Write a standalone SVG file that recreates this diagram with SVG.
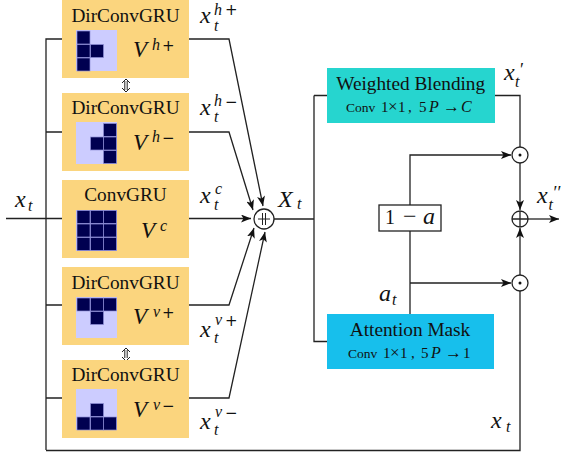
<svg xmlns="http://www.w3.org/2000/svg" width="561" height="455" viewBox="0 0 561 455">
<style>
text{font-family:"Liberation Serif","Times New Roman",serif;fill:#111}
.t{font-size:19.300px;text-anchor:middle}
.m{font-style:italic;font-size:24px}
.v{font-style:italic;font-size:23px}
.s{font-style:italic;font-size:16px}
text.p{font-family:"DejaVu Sans",sans-serif;font-size:15px}
.q{font-size:18px}
.c{font-size:13.500px}
.d{font-size:15px}
.x{font-size:17px}
.ci{font-size:16px;font-style:italic}
.b{fill:#fbd57e}
.l{fill:#ccccff}
.k{fill:#000050;stroke:#8f8fd8;stroke-width:.7}
.w{fill:none;stroke:#222;stroke-width:1.3}
.n{fill:#fff;stroke:#222;stroke-width:1.3}
.a{fill:#111}
</style>
<defs>
<marker id="ah" markerWidth="11" markerHeight="8" refX="10" refY="4" orient="auto" markerUnits="userSpaceOnUse"><path d="M0 0L10 4L0 8L2.500 4Z" fill="#111"/></marker>
<rect id="q" class="k" width="13" height="13"/>
</defs>
<g id="connectors">
<path class="w" d="M46 450V39H62M46 132H62M6 218.500H62M46 305H62M46 398H62M46 450.500H520V291"/>
<path class="w" d="M189 39H229L263 206" marker-end="url(#ah)"/>
<path class="w" d="M189 132H229L253 210" marker-end="url(#ah)"/>
<path class="w" d="M189 218.500H251" marker-end="url(#ah)"/>
<path class="w" d="M189 305H229L254 228" marker-end="url(#ah)"/>
<path class="w" d="M189 398H229L265 232" marker-end="url(#ah)"/>
<path class="w" d="M274 219H314M314 95.500H327M314 95.500V341.500H327M495 95.500H520V147"/>
<path class="w" d="M410 205V155H511" marker-end="url(#ah)"/>
<path class="w" d="M410 231V314M410 283H511" marker-end="url(#ah)"/>
<path class="w" d="M520 163V210" marker-end="url(#ah)"/>
<path class="w" d="M520 275V228" marker-end="url(#ah)"/>
<path class="w" d="M528 219H559" marker-end="url(#ah)"/>
<path class="w" style="stroke-width:1" d="M124.800 81V90M127.200 81V90M124.800 350V358M127.200 350V358"/>
<path class="w" style="stroke-width:1" d="M122 83L126 79L130 83M122 88L126 92L130 88M122 352L126 348L130 352M122 357L126 361L130 357"/>
</g>
<g id="node-hplus">
<rect class="b" x="62" y="0" width="127" height="78"/>
<text class="t" x="125.500" y="22">DirConvGRU</text>
<rect class="l" x="76" y="30" width="41" height="41"/>
<use href="#q" x="77" y="31"/><use href="#q" x="77" y="44.500"/><use href="#q" x="90.500" y="44.500"/><use href="#q" x="77" y="58"/>
<text class="v" x="133" y="57">V</text><text class="s" x="152" y="50">h</text><text class="p" x="162" y="51">+</text>
</g>
<g id="node-hminus">
<rect class="b" x="62" y="93" width="127" height="78"/>
<text class="t" x="125.500" y="114">DirConvGRU</text>
<rect class="l" x="76" y="122" width="41" height="42"/>
<use href="#q" x="103.500" y="123.500"/><use href="#q" x="90.500" y="137"/><use href="#q" x="103.500" y="137"/><use href="#q" x="103.500" y="150.500"/>
<text class="v" x="133" y="150">V</text><text class="s" x="152" y="142">h</text><text class="p" x="162" y="143">−</text>
</g>
<g id="node-c">
<rect class="b" x="62" y="180" width="127" height="78"/>
<text class="t" x="125.500" y="201">ConvGRU</text>
<rect class="l" x="76" y="210" width="41" height="41"/>
<use href="#q" x="77" y="210.500"/><use href="#q" x="90.500" y="210.500"/><use href="#q" x="103.500" y="210.500"/>
<use href="#q" x="77" y="224"/><use href="#q" x="90.500" y="224"/><use href="#q" x="103.500" y="224"/>
<use href="#q" x="77" y="237.500"/><use href="#q" x="90.500" y="237.500"/><use href="#q" x="103.500" y="237.500"/>
<text class="v" x="141" y="238">V</text><text class="s" x="160" y="231">c</text>
</g>
<g id="node-vplus">
<rect class="b" x="62" y="267" width="127" height="78"/>
<text class="t" x="125.500" y="289">DirConvGRU</text>
<rect class="l" x="76" y="297" width="41" height="41"/>
<use href="#q" x="77" y="298"/><use href="#q" x="90.500" y="298"/><use href="#q" x="103.500" y="298"/><use href="#q" x="90.500" y="311.500"/>
<text class="v" x="133" y="324">V</text><text class="s" x="153" y="317">v</text><text class="p" x="162" y="318">+</text>
</g>
<g id="node-vminus">
<rect class="b" x="62" y="360" width="127" height="78"/>
<text class="t" x="125.500" y="381">DirConvGRU</text>
<rect class="l" x="76" y="389" width="41" height="41"/>
<use href="#q" x="90.500" y="403.500"/><use href="#q" x="77" y="417"/><use href="#q" x="90.500" y="417"/><use href="#q" x="103.500" y="417"/>
<text class="v" x="133" y="417">V</text><text class="s" x="153" y="410">v</text><text class="p" x="162" y="411">−</text>
</g>
<g id="node-plus1">
<circle class="n" cx="264" cy="219" r="10"/>
<path class="w" style="stroke-width:1" d="M258 219H270M262.500 213V225M265.500 213V225"/>
</g>
<g id="node-blend">
<rect x="327" y="68" width="168" height="55" fill="#26d5cf"/>
<text class="t" x="410.700" y="90">Weighted Blending</text>
<text class="c" x="346" y="112">Conv</text><text class="d" x="381" y="112">1</text><text class="x" x="388" y="112">×</text><text class="d" x="398" y="112">1</text><text class="d" x="408" y="112">,</text><text class="d" x="419" y="112">5</text><text class="ci" x="429" y="112">P</text><text class="x" x="443" y="112">→</text><text class="ci" x="461" y="112">C</text>
</g>
<g id="node-attention">
<rect x="327" y="314" width="167" height="55" fill="#17bfec"/>
<text class="t" x="410" y="336">Attention Mask</text>
<text class="c" x="348" y="358">Conv</text><text class="d" x="383" y="358">1</text><text class="x" x="390" y="358">×</text><text class="d" x="400" y="358">1</text><text class="d" x="411" y="358">,</text><text class="d" x="421" y="358">5</text><text class="ci" x="431" y="358">P</text><text class="x" x="445" y="358">→</text><text class="d" x="463" y="358">1</text>
</g>
<g id="node-1ma">
<rect class="n" x="379" y="205" width="62" height="26"/>
<text x="385" y="224" style="font-size:20px">1</text><text x="403" y="224" style="font-size:24px">−</text><text class="m" x="423" y="224">a</text>
</g>
<g id="node-dot1"><circle class="n" cx="520" cy="155" r="8"/><circle class="a" cx="520" cy="155" r="1.500"/></g>
<g id="node-dot2"><circle class="n" cx="520" cy="283" r="8"/><circle class="a" cx="520" cy="283" r="1.500"/></g>
<g id="node-plus2"><circle class="n" cx="520" cy="219" r="8"/><path class="w" d="M512 219H528M520 211V227"/></g>
<g id="labels">
<text class="m" x="15" y="207">x</text><text class="s" x="28" y="211">t</text>
<text class="m" x="200" y="23">x</text><text class="s" x="214" y="14.500">h</text><text class="p" x="225" y="15">+</text><text class="s" x="214" y="31">t</text>
<text class="m" x="200" y="115">x</text><text class="s" x="214" y="106">h</text><text class="p" x="225" y="107">−</text><text class="s" x="214" y="122">t</text>
<text class="m" x="200" y="203">x</text><text class="s" x="215" y="194">c</text><text class="s" x="214" y="210">t</text>
<text class="m" x="200" y="337">x</text><text class="s" x="215" y="325">v</text><text class="p" x="225" y="326">+</text><text class="s" x="214" y="343">t</text>
<text class="m" x="200" y="429">x</text><text class="s" x="215" y="417">v</text><text class="p" x="225" y="418">−</text><text class="s" x="214" y="435">t</text>
<text class="m" x="278" y="207">X</text><text class="s" x="297" y="209">t</text>
<text class="m" x="504" y="80">x</text><text class="q" x="520" y="76">′</text><text class="s" x="515" y="87">t</text>
<text class="m" x="537" y="203">x</text><text class="q" x="553.500" y="199">′′</text><text class="s" x="548.500" y="210">t</text>
<text class="m" x="379" y="301">a</text><text class="s" x="392" y="305">t</text>
<text class="m" x="491" y="428">x</text><text class="s" x="506" y="432">t</text>
</g>
</svg>
